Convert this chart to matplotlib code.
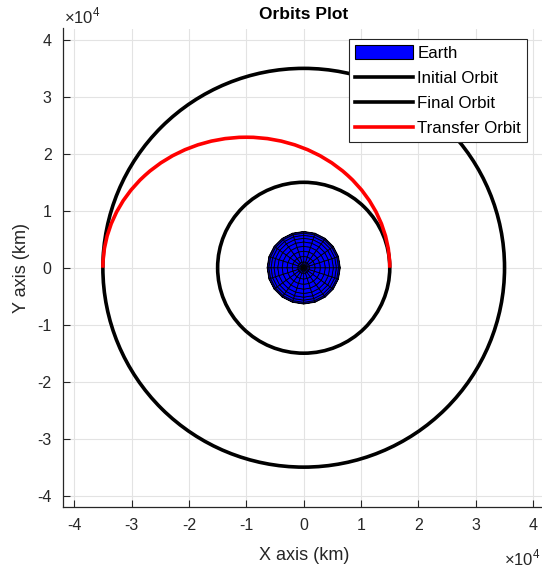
import numpy as np
import matplotlib.pyplot as plt
from matplotlib.patches import Circle, Arc, Patch
from matplotlib.collections import PolyCollection
from matplotlib.lines import Line2D

plt.rcParams['font.family'] = ['Liberation Sans', 'DejaVu Sans']
plt.rcParams['mathtext.fontset'] = 'custom'
plt.rcParams['mathtext.rm'] = 'Liberation Sans'

# radii (km)
r_earth = 6378
r_initial = 15000
r_final = 35000
n_mesh = 20  # sphere resolution, like sphere(20)

ticks = [-40000, -30000, -20000, -10000, 0, 10000, 20000, 30000, 40000]
tick_labels = ['-4', '-3', '-2', '-1', '0', '1', '2', '3', '4']
legend_labels = ['Earth', 'Initial Orbit', 'Final Orbit', 'Transfer Orbit']
lim = 42000

# hohmann transfer ellipse
a_t = (r_initial + r_final) / 2
b_t = np.sqrt(r_initial * r_final)
c_t = r_initial - a_t

fig = plt.figure(figsize=(5.42, 5.74), dpi=100)
ax = fig.add_axes([62.7 / 542, 67 / 574, 482 / 542, 478.5 / 574])

# earth seen from above: upper half of the sphere mesh
theta = np.linspace(-np.pi, np.pi, n_mesh + 1)
phi = np.linspace(0, np.pi / 2, n_mesh // 2 + 1)
rho = r_earth * np.cos(phi)
quads = []
for i in range(len(phi) - 1):
    for j in range(n_mesh):
        quads.append([(rho[i] * np.cos(theta[j]), rho[i] * np.sin(theta[j])),
                      (rho[i] * np.cos(theta[j + 1]), rho[i] * np.sin(theta[j + 1])),
                      (rho[i + 1] * np.cos(theta[j + 1]), rho[i + 1] * np.sin(theta[j + 1])),
                      (rho[i + 1] * np.cos(theta[j]), rho[i + 1] * np.sin(theta[j]))])
earth = PolyCollection(quads, facecolor='#0000ff', edgecolor='black', linewidth=0.6, zorder=3)
ax.add_collection(earth)

lw = 2.6
ax.add_patch(Circle((0, 0), r_initial, fill=False, color='black', lw=lw, zorder=4))
ax.add_patch(Circle((0, 0), r_final, fill=False, color='black', lw=lw, zorder=4))
ax.add_patch(Arc((c_t, 0), 2 * a_t, 2 * b_t, theta1=0, theta2=180, color='red', lw=lw, zorder=5))

ax.set_xlim(-lim, lim)
ax.set_ylim(-lim, lim)
ax.set_xticks(ticks)
ax.set_yticks(ticks)
ax.set_xticklabels(tick_labels)
ax.set_yticklabels(tick_labels)
ax.tick_params(direction='in', length=5, width=0.8, color='#262626', labelsize=11.5,
               labelcolor='#262626', pad=8)
ax.grid(True, color='#e3e3e3', linewidth=0.8, zorder=0)
ax.set_axisbelow(True)
for s in ['top', 'right']:
    ax.spines[s].set_visible(False)
for s in ['left', 'bottom']:
    ax.spines[s].set_color('#262626')
    ax.spines[s].set_linewidth(0.9)

ax.set_title('Orbits Plot', fontsize=12.5, fontweight='bold', pad=7)
ax.set_xlabel('X axis (km)', fontsize=13, color='#262626', labelpad=10)
ax.set_ylabel('Y axis (km)', fontsize=13, color='#262626', labelpad=5)

fig.text(64 / 542, 1 - 16 / 574, r'$\times10^{4}$', fontsize=12, color='#262626', va='center')
fig.text(541 / 542, 1 - 558 / 574, r'$\times10^{4}$', fontsize=12, color='#262626', va='center', ha='right')

handles = [Patch(facecolor='#0000ff', edgecolor='black', linewidth=0.8),
           Line2D([], [], color='black', lw=lw),
           Line2D([], [], color='black', lw=lw),
           Line2D([], [], color='red', lw=lw)]
leg = ax.legend(handles, legend_labels, loc='upper right', bbox_to_anchor=(0.963, 0.978),
                borderaxespad=0, fontsize=12.2, handlelength=3.4, handleheight=0.9,
                handletextpad=0.25, labelspacing=0.55, borderpad=0.35, fancybox=False,
                framealpha=1, edgecolor='#262626')
leg.get_frame().set_linewidth(0.8)
leg.set_zorder(10)

fig.savefig('out.png', dpi=100)
